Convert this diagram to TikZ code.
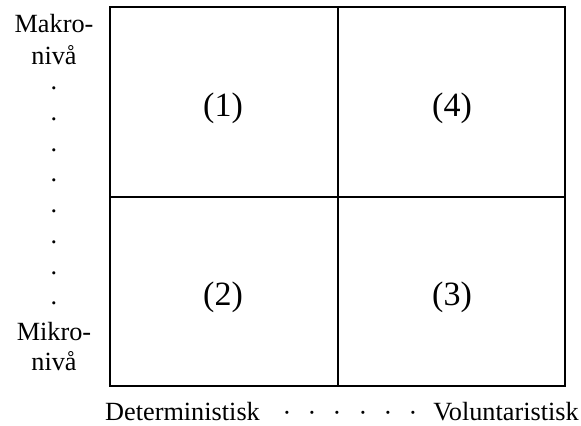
\documentclass[tikz,border=0pt]{standalone}
\usepackage{fontspec}
\setmainfont{Liberation Serif}
\usetikzlibrary{positioning}
\tikzset{
    lbl/.style = {font=\fontsize{19.7}{23}\selectfont, inner sep=0pt, anchor=base},
    num/.style = {font=\fontsize{25.5}{30}\selectfont, inner sep=0pt, anchor=base},
    grid/.style = {line width=1.5pt}
    }
\begin{document}
\begin{tikzpicture}[
      x = 0.75pt, y = -0.75pt % pixel units, y downwards
    ]
    \useasboundingbox (0,0) rectangle (581,425);

    % the four cells
    \coordinate (nw) at (110,7);
    \coordinate (se) at (565,386);
    \coordinate (mid) at (338,197);
    \draw[grid] (nw) rectangle (se);
    \draw[grid] (mid |- nw) -- (mid |- se);
    \draw[grid] (mid -| nw) -- (mid -| se);

    \node[num] (c1) at (223,116) {(1)};
    \node[num] (c4) at (452,116) {(4)};
    \node[num] (c2) at (223,305) {(2)};
    \node[num] (c3) at (452,305) {(3)};

    % vertical axis
    \node[lbl] (makro) at (54,32) {Makro-};
    \node[lbl] (makroniva) at (54,64) {nivå};
    \foreach \y [count=\i] in {89,120,151,181,212,243,274,304}
        \node[lbl] (vdot\i) at (54,\y) {.};
    \node[lbl] (mikro) at (54,340) {Mikro-};
    \node[lbl] (mikroniva) at (54,370) {nivå};

    % horizontal axis
    \node[lbl] (det) at (182.5,420) {Deterministisk};
    \foreach \x [count=\i] in {287,312,337,363,388,413}
        \node[lbl] (hdot\i) at (\x,421) {·};
    \node[lbl] (vol) at (506,420) {Voluntaristisk};

\end{tikzpicture}
\end{document}
